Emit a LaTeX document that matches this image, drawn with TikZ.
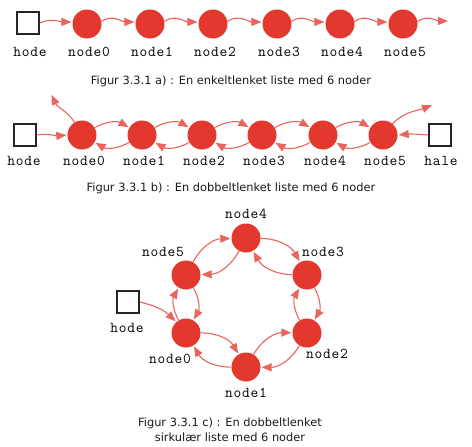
\documentclass[tikz,border=0pt]{standalone}
\usepackage{fontspec}
\setmainfont{DejaVu Sans}
\newfontfamily\monolabel{Latin Modern Mono}[LetterSpace=5]
\usetikzlibrary{arrows.meta}
\definecolor{nodered}{HTML}{E2382E}
\definecolor{linkred}{HTML}{E8645C}
\definecolor{captext}{HTML}{1A1A1A}
\begin{document}
\begin{tikzpicture}[x=1pt,y=1pt,
					listnode/.style={shape=circle, fill=nodered, minimum size=29pt, inner sep=0},
					refbox/.style={shape=rectangle, draw=black!85, line width=1.8pt, minimum size=22pt, inner sep=0},
					link/.style={-{Triangle[length=10pt,width=8pt]}, draw=linkred, line width=1.1pt, shorten >=1pt},
					namelbl/.style={font=\monolabel\fontsize{15}{15}\selectfont, inner sep=0},
					caption/.style={font=\fontsize{11.4}{14.5}\selectfont, text=captext, align=center, inner sep=0}
					]
	\useasboundingbox (0,0) rectangle (472,-447);

	%Panel a-----------------------------------------------
	\node[refbox] (hodeA) at (28,-23) {};
	\node[listnode] (a0) at (87,-24) {};
	\node[listnode] (a1) at (150,-24) {};
	\node[listnode] (a2) at (213,-24) {};
	\node[listnode] (a3) at (277,-24) {};
	\node[listnode] (a4) at (340,-24) {};
	\node[listnode] (a5) at (403,-24) {};
	\coordinate (aEnd) at (449,-21); %last next pointer
	\node[namelbl] (lhodeA) at (30,-52) {hode};
	\node[namelbl] (la0) at (89,-52) {node0};
	\node[namelbl] (la1) at (152,-52) {node1};
	\node[namelbl] (la2) at (215,-52) {node2};
	\node[namelbl] (la3) at (279,-52) {node3};
	\node[namelbl] (la4) at (342,-52) {node4};
	\node[namelbl] (la5) at (405,-52) {node5};
	\draw[link] (hodeA.east) to[out=25,in=180] (a0.172); %hode
	\draw[link] (a0.10) to[out=35,in=180] (a1.172); %next
	\draw[link] (a1.10) to[out=35,in=180] (a2.172); %next
	\draw[link] (a2.10) to[out=35,in=180] (a3.172); %next
	\draw[link] (a3.10) to[out=35,in=180] (a4.172); %next
	\draw[link] (a4.10) to[out=35,in=180] (a5.172); %next
	\draw[link] (a5.10) to[out=35,in=180] (aEnd); %next
	\node[caption] (capA) at (231,-81) {Figur 3.3.1 a) : En enkeltlenket liste med 6 noder};

	%Panel b-----------------------------------------------
	\node[refbox] (hodeB) at (25,-135) {};
	\node[listnode] (b0) at (82,-135) {};
	\node[listnode] (b1) at (142,-135) {};
	\node[listnode] (b2) at (202,-135) {};
	\node[listnode] (b3) at (262,-135) {};
	\node[listnode] (b4) at (323,-135) {};
	\node[listnode] (b5) at (383,-135) {};
	\node[refbox] (haleB) at (440,-135) {};
	\coordinate (bStart) at (51,-94); %first prev pointer
	\coordinate (bEnd) at (433,-105); %last next pointer
	\node[namelbl] (lhodeB) at (24,-161) {hode};
	\node[namelbl] (lb0) at (84,-161) {node0};
	\node[namelbl] (lb1) at (144,-161) {node1};
	\node[namelbl] (lb2) at (204,-161) {node2};
	\node[namelbl] (lb3) at (264,-161) {node3};
	\node[namelbl] (lb4) at (325,-161) {node4};
	\node[namelbl] (lb5) at (385,-161) {node5};
	\node[namelbl] (lhaleB) at (441,-161) {hale};
	\draw[link] (hodeB.east) to[out=10,in=185] (b0.west); %hode
	\draw[link] (haleB.west) to[out=175,in=5] (b5.east); %hale
	\draw[link] (b0.120) to[out=125,in=-65] (bStart); %prev of node0
	\draw[link] (b5.50) to[out=45,in=200] (bEnd); %next of node5
	\draw[link] (b0.30) to[bend left=30] (b1.150); %next
	\draw[link] (b1.30) to[bend left=30] (b2.150); %next
	\draw[link] (b2.30) to[bend left=30] (b3.150); %next
	\draw[link] (b3.30) to[bend left=30] (b4.150); %next
	\draw[link] (b4.30) to[bend left=30] (b5.150); %next
	\draw[link] (b1.210) to[bend left=30] (b0.330); %prev
	\draw[link] (b2.210) to[bend left=30] (b1.330); %prev
	\draw[link] (b3.210) to[bend left=30] (b2.330); %prev
	\draw[link] (b4.210) to[bend left=30] (b3.330); %prev
	\draw[link] (b5.210) to[bend left=30] (b4.330); %prev
	\node[caption] (capB) at (231,-188) {Figur 3.3.1 b) : En dobbeltlenket liste med 6 noder};

	%Panel c-----------------------------------------------
	\node[listnode] (c4) at (246,-238) {};
	\node[listnode] (c3) at (307,-275) {};
	\node[listnode] (c2) at (307,-333) {};
	\node[listnode] (c1) at (246,-367) {};
	\node[listnode] (c0) at (186,-333) {};
	\node[listnode] (c5) at (186,-275) {};
	\node[refbox] (hodeC) at (128,-302) {};
	\node[namelbl] (lc4) at (246,-214) {node4};
	\node[namelbl] (lc5) at (163,-252) {node5};
	\node[namelbl] (lc3) at (323,-252) {node3};
	\node[namelbl] (lhodeC) at (127,-328) {hode};
	\node[namelbl] (lc0) at (170,-359) {node0};
	\node[namelbl] (lc2) at (327,-354) {node2};
	\node[namelbl] (lc1) at (246,-393) {node1};
	\draw[link] (hodeC.east) to[bend left=15] (c0); %hode
	\draw[link] (c0) to[bend left=30] (c1); %next
	\draw[link] (c1) to[bend left=30] (c2); %next
	\draw[link] (c2) to[bend left=30] (c3); %next
	\draw[link] (c3) to[bend left=30] (c4); %next
	\draw[link] (c4) to[bend left=30] (c5); %next
	\draw[link] (c5) to[bend left=30] (c0); %next
	\draw[link] (c1) to[bend left=30] (c0); %prev
	\draw[link] (c2) to[bend left=30] (c1); %prev
	\draw[link] (c3) to[bend left=30] (c2); %prev
	\draw[link] (c4) to[bend left=30] (c3); %prev
	\draw[link] (c5) to[bend left=30] (c4); %prev
	\draw[link] (c0) to[bend left=30] (c5); %prev
	\node[caption] (capC) at (230,-429.5) {Figur 3.3.1 c) : En dobbeltlenket\\sirkulær liste med 6 noder};
\end{tikzpicture}
\end{document}
